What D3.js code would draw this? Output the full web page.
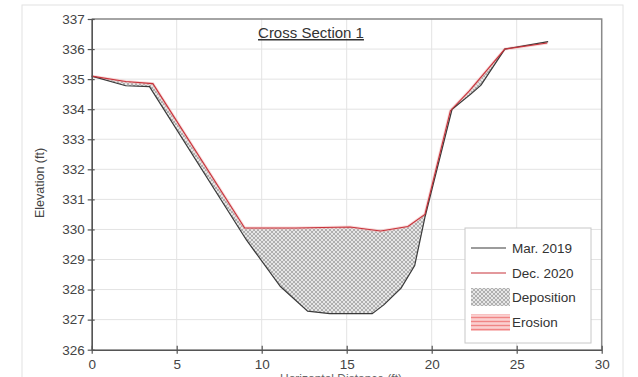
<!DOCTYPE html>
<html>
<head>
<meta charset="utf-8">
<script src="https://d3js.org/d3.v7.min.js"></script>
<style>
  body { margin: 0; background: #fff; }
  svg { display: block; font-family: "Liberation Sans", Arial, sans-serif; }
</style>
</head>
<body>
<div id="chart"></div>
<script>
// survey data (station ft, elevation ft)
var station2019 = [0, 2, 3.4, 9.1, 11.1, 12.7, 14, 16.5, 17.2, 18.2, 19.0, 19.6, 21.2, 22.3, 22.9, 24.3, 26.85];
var elev2019    = [335.1, 334.78, 334.75, 329.65, 328.1, 327.28, 327.2, 327.2, 327.5, 328.05, 328.8, 330.4, 334.0, 334.5, 334.8, 336.0, 336.25];
var station2020 = [0, 2, 3.6, 9.0, 12, 15.2, 17.0, 18.6, 19.6, 21.1, 22.2, 24.3, 26.8];
var elev2020    = [335.1, 334.92, 334.85, 330.05, 330.05, 330.08, 329.95, 330.1, 330.5, 333.95, 334.6, 336.0, 336.2];

var xTicks = [0, 5, 10, 15, 20, 25, 30];
var yTicks = d3.range(326, 338);
var seriesNames = ["Mar. 2019", "Dec. 2020", "Deposition", "Erosion"];

var W = 638, H = 377;
var m = { left: 91.7, right: 601.7, top: 19, bottom: 349.7 };

var svg = d3.select("#chart").append("svg").attr("width", W).attr("height", H);

var x = d3.scaleLinear().domain([0, 30]).range([m.left, m.right]);
var y = d3.scaleLinear().domain([326, 337]).range([m.bottom, m.top]);

var d2019 = station2019.map(function(s, i) { return [s, elev2019[i]]; });
var d2020 = station2020.map(function(s, i) { return [s, elev2020[i]]; });

// patterns
var defs = svg.append("defs");
var hatch = defs.append("pattern").attr("id", "dep").attr("patternUnits", "userSpaceOnUse")
  .attr("width", 4).attr("height", 4);
hatch.append("rect").attr("width", 4).attr("height", 4).attr("fill", "#e6e6e6");
hatch.append("path").attr("d", "M0,0L4,4M4,0L0,4").attr("stroke", "#8a8a8a").attr("stroke-width", 0.6);

var ero = defs.append("pattern").attr("id", "ero").attr("patternUnits", "userSpaceOnUse")
  .attr("width", 4).attr("height", 4);
ero.append("rect").attr("width", 4).attr("height", 4).attr("fill", "#fbd0d0");
ero.append("path").attr("d", "M0,1.5H4").attr("stroke", "#f08585").attr("stroke-width", 1.4);

// clip regions: below 2020 surface, below 2019 surface
defs.append("clipPath").attr("id", "below2020").append("path")
  .attr("d", d3.area().x(function(d) { return x(d[0]); }).y0(m.bottom).y1(function(d) { return y(d[1]); })(d2020));
defs.append("clipPath").attr("id", "below2019").append("path")
  .attr("d", d3.area().x(function(d) { return x(d[0]); }).y0(m.bottom).y1(function(d) { return y(d[1]); })(d2019));

// outer figure border
svg.append("rect").attr("x", 22).attr("y", 5).attr("width", 601).attr("height", 380)
  .attr("fill", "none").attr("stroke", "#e2e2e2");

// grid
svg.append("g").selectAll("line").data(yTicks).enter().append("line")
  .attr("x1", m.left).attr("x2", m.right)
  .attr("y1", function(d) { return y(d); }).attr("y2", function(d) { return y(d); })
  .attr("stroke", "#e3e3e3").attr("stroke-width", 1);
svg.append("g").selectAll("line").data(xTicks).enter().append("line")
  .attr("y1", m.top).attr("y2", m.bottom)
  .attr("x1", function(d) { return x(d); }).attr("x2", function(d) { return x(d); })
  .attr("stroke", "#e3e3e3").attr("stroke-width", 1);

// deposition: above 2019, below 2020
svg.append("path")
  .attr("d", d3.area().x(function(d) { return x(d[0]); }).y0(m.top).y1(function(d) { return y(d[1]); })(d2019))
  .attr("fill", "url(#dep)").attr("clip-path", "url(#below2020)");
// erosion: above 2020, below 2019
svg.append("path")
  .attr("d", d3.area().x(function(d) { return x(d[0]); }).y0(m.top).y1(function(d) { return y(d[1]); })(d2020))
  .attr("fill", "url(#ero)").attr("clip-path", "url(#below2019)");

var line = d3.line().x(function(d) { return x(d[0]); }).y(function(d) { return y(d[1]); });

svg.append("path").datum(d2020).attr("d", line)
  .attr("fill", "none").attr("stroke", "#f4b8b8").attr("stroke-width", 3).attr("opacity", 0.5);
svg.append("path").datum(d2019).attr("d", line)
  .attr("fill", "none").attr("stroke", "#3a3a3a").attr("stroke-width", 1.2);
svg.append("path").datum(d2020).attr("d", line)
  .attr("fill", "none").attr("stroke", "#c8323a").attr("stroke-width", 1.1);

// frame top/right
svg.append("path").attr("d", "M" + m.left + "," + m.top + "H" + m.right + "V" + m.bottom)
  .attr("fill", "none").attr("stroke", "#8a8a8a").attr("stroke-width", 1.5);

// axes
var yAxis = svg.append("g").attr("transform", "translate(" + m.left + ",0)")
  .call(d3.axisLeft(y).tickValues(yTicks).tickSize(0).tickPadding(7));
var xAxis = svg.append("g").attr("transform", "translate(0," + m.bottom + ")")
  .call(d3.axisBottom(x).tickValues(xTicks).tickSize(0).tickPadding(10));
[yAxis, xAxis].forEach(function(a) {
  a.select(".domain").attr("stroke", "#555").attr("stroke-width", 1.6);
  a.selectAll("text").attr("fill", "#444").style("font-size", "13.5px");
});
yAxis.selectAll(".tick").append("line").attr("x1", -4).attr("x2", 3).attr("stroke", "#555").attr("stroke-width", 1.2);
xAxis.selectAll(".tick").append("line").attr("y1", -4).attr("y2", 4).attr("stroke", "#555").attr("stroke-width", 1.2);

// titles
svg.append("text").attr("x", 311).attr("y", 38).attr("text-anchor", "middle")
  .attr("fill", "#333").style("font-size", "15px").style("text-decoration", "underline")
  .text("Cross Section 1");
svg.append("text").attr("transform", "translate(44,183) rotate(-90)").attr("text-anchor", "middle")
  .attr("fill", "#444").style("font-size", "12.5px").text("Elevation (ft)");
svg.append("text").attr("x", 341).attr("y", 383).attr("text-anchor", "middle")
  .attr("fill", "#666").style("font-size", "12px").text("Horizontal Distance (ft)");

// legend
var lg = svg.append("g");
lg.append("rect").attr("x", 465).attr("y", 228).attr("width", 126).attr("height", 115)
  .attr("fill", "#fff").attr("stroke", "#c8c8c8");
var rowY = [248, 273, 297, 322];
lg.append("line").attr("x1", 471).attr("x2", 506).attr("y1", rowY[0]).attr("y2", rowY[0])
  .attr("stroke", "#3a3a3a").attr("stroke-width", 1.2);
lg.append("line").attr("x1", 471).attr("x2", 506).attr("y1", rowY[1]).attr("y2", rowY[1])
  .attr("stroke", "#c8323a").attr("stroke-width", 1.2);
lg.append("rect").attr("x", 471).attr("y", 288).attr("width", 39).attr("height", 18).attr("fill", "url(#dep)");
lg.append("rect").attr("x", 471).attr("y", 314).attr("width", 39).attr("height", 17).attr("fill", "url(#ero)");
lg.selectAll("text.lab").data(seriesNames).enter().append("text").attr("class", "lab")
  .attr("x", 512).attr("y", function(d, i) { return rowY[i] + 5; })
  .attr("fill", "#333").style("font-size", "13.5px").text(function(d) { return d; });
</script>
</body>
</html>
